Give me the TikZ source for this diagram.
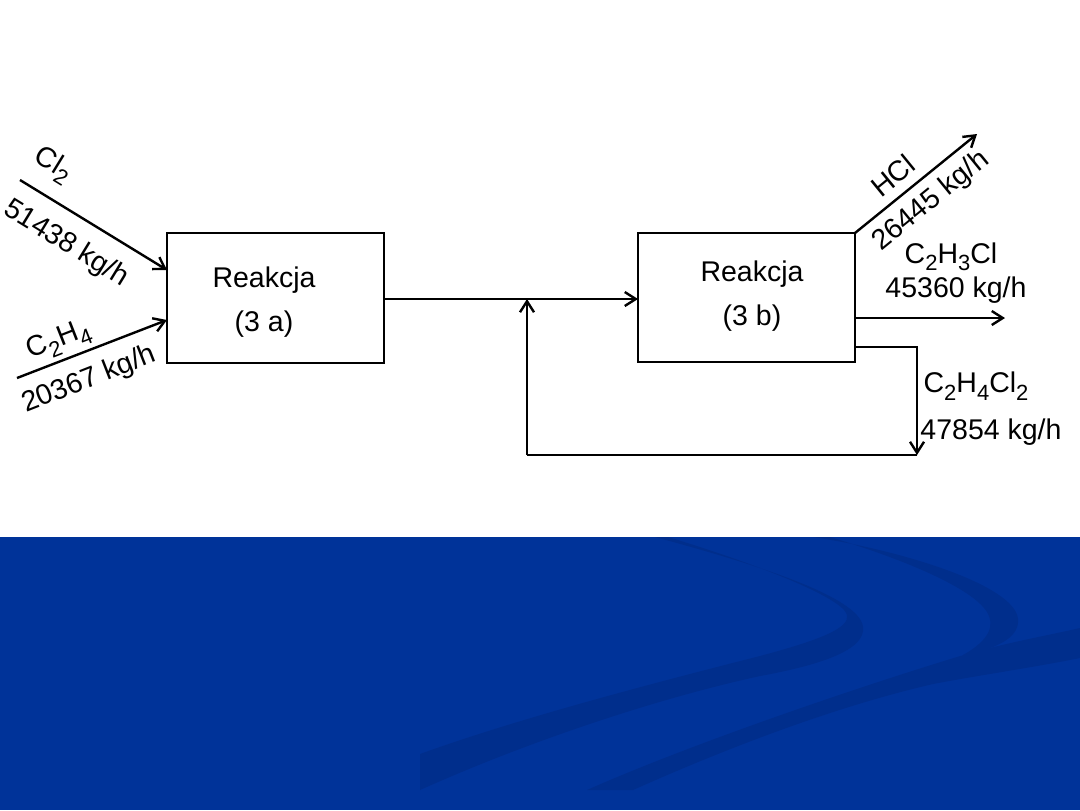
\documentclass[tikz,border=0pt]{standalone}
\usepackage{fontspec}
\setmainfont{Liberation Sans}
\usetikzlibrary{arrows.meta}
\definecolor{band}{RGB}{0,51,153}
\definecolor{swoosh}{RGB}{0,46,140}
\newcommand\sbs[1]{\raisebox{-0.5ex}{\fontsize{11}{11}\selectfont #1}}
\tikzset{
  reactor/.style={draw, line width=1.2pt},
  flow/.style={line width=1.2pt, -{Straight Barb[length=5.5pt,width=7pt,line width=1.2pt]}},
  plain/.style={line width=1.2pt},
  lbl/.style={inner sep=0pt, font=\fontsize{14.25}{16}\selectfont},
}
\begin{document}
\begin{tikzpicture}[x=0.5pt,y=-0.5pt]
\useasboundingbox (0,0) rectangle (1080,810);
% background band
\fill[band] (0,537) rectangle (1080,810);
\fill[swoosh] (655,537) .. controls (740,560) and (860,595) .. (863,627)
   .. controls (866,650) and (820,665) .. (760,676)
   .. controls (650,700) and (520,745) .. (420,790) -- (420,754)
   .. controls (520,718) and (650,684) .. (760,656)
   .. controls (820,640) and (850,628) .. (847,615)
   .. controls (843,598) and (760,565) .. (668,537) -- cycle;
\fill[swoosh] (813,537) .. controls (900,550) and (1015,585) .. (1018,619)
   .. controls (1020,640) and (990,650) .. (963,655)
   .. controls (990,640) and (995,625) .. (987,612)
   .. controls (970,585) and (890,555) .. (830,537) -- cycle;
\fill[swoosh] (587,790) .. controls (700,740) and (880,680) .. (967,654)
   .. controls (1010,642) and (1050,635) .. (1080,628) -- (1080,658)
   .. controls (1030,668) and (980,675) .. (933,684)
   .. controls (820,710) and (700,760) .. (633,790) -- cycle;

% reactors
\node[reactor, minimum width=108.5pt, minimum height=65pt, inner sep=0pt] (A) at (275.5,298) {};
\node[reactor, minimum width=108.5pt, minimum height=64.5pt, inner sep=0pt] (B) at (746.5,297.5) {};
\node[lbl, anchor=base] (A1) at (264,287) {Reakcja};
\node[lbl, anchor=base] (A2) at (264,331) {(3 a)};
\node[lbl, anchor=base] (B1) at (752,281) {Reakcja};
\node[lbl, anchor=base] (B2) at (752,325) {(3 b)};

% coordinates
\coordinate (cl) at (20,180);
\coordinate (clend) at (167,270);
\coordinate (et) at (17,378);
\coordinate (etend) at (167,320);
\coordinate (hclS) at (855,233);
\coordinate (hclE) at (977,134);
\coordinate (vcS) at (855,318);
\coordinate (vcE) at (1005,318);
\coordinate (dS) at (855,347);
\coordinate (d1) at (917,347);
\coordinate (d2) at (917,455);
\coordinate (r1) at (527,455);
\coordinate (r2) at (527,299);
\coordinate (aout) at (384,299);
\coordinate (bin) at (638,299);

% feed streams
\draw[flow] (cl) -- (clend);
\draw[flow] (et) -- (etend);
\draw[flow] (aout) -- (bin);
% products
\draw[flow] (hclS) -- (hclE);
\draw[flow] (vcS) -- (vcE);
\draw[flow] (dS) -- (d1) -- (d2);
\draw[plain] (d2) -- (r1);
\draw[flow] (r1) -- (r2);

% labels
\node[lbl, rotate=-31.5] (lcl) at (53,165) {Cl\sbs{2}};
\node[lbl, rotate=-31.5] (lclm) at (66,244) {51438 kg/h};
\node[lbl, rotate=21.4] (let) at (59,341) {C\sbs{2}H\sbs{4}};
\node[lbl, rotate=21.4] (letm) at (89,380) {20367 kg/h};
\node[lbl, rotate=39.2] (lh) at (893,176) {HCl};
\node[lbl, rotate=39.2] (lhm) at (931,201) {26445 kg/h};
\node[lbl] (lvc) at (951,257) {C\sbs{2}H\sbs{3}Cl};
\node[lbl] (lvcm) at (956,290) {45360 kg/h};
\node[lbl] (ld) at (976,386) {C\sbs{2}H\sbs{4}Cl\sbs{2}};
\node[lbl] (ldm) at (991,432) {47854 kg/h};
\end{tikzpicture}
\end{document}
